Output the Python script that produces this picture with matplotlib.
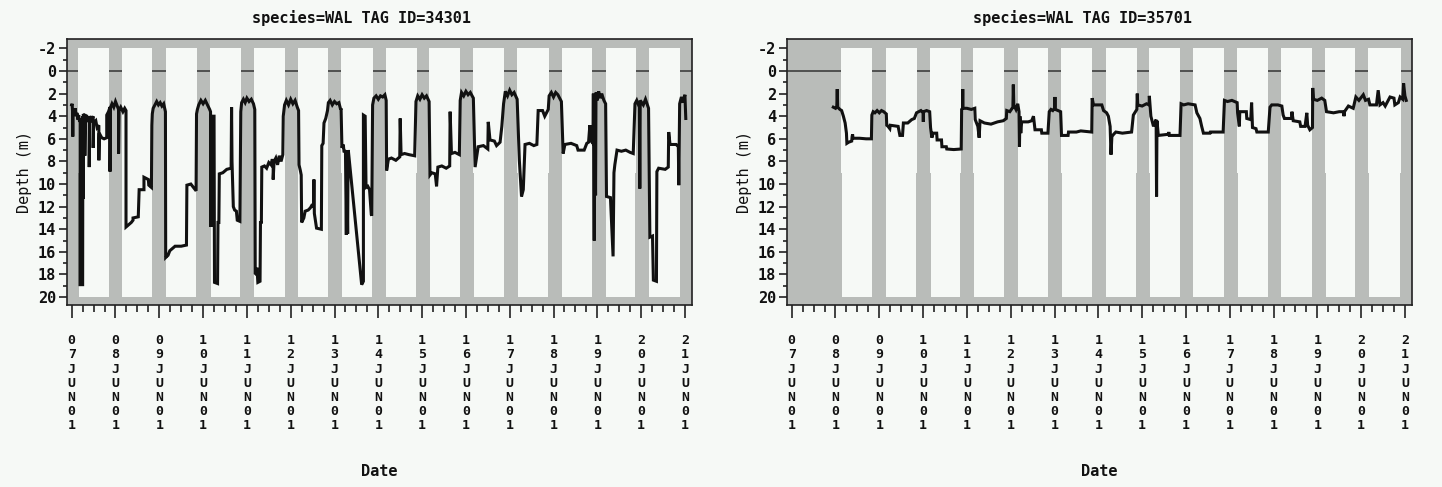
import matplotlib
matplotlib.use("Agg")
import matplotlib.pyplot as plt
from matplotlib.patches import Rectangle
from matplotlib.ticker import MultipleLocator

# ---------------- data (days since 07JUN01 00:00, depth in m) ----------------
titles = ["species=WAL TAG ID=34301", "species=WAL TAG ID=35701"]
date_labels = ["07JUN01", "08JUN01", "09JUN01", "10JUN01", "11JUN01",
               "12JUN01", "13JUN01", "14JUN01", "15JUN01", "16JUN01",
               "17JUN01", "18JUN01", "19JUN01", "20JUN01", "21JUN01"]
depth_ticks = [-2, 0, 2, 4, 6, 8, 10, 12, 14, 16, 18, 20]

# daylight periods (white), start / end in days
light_start_34301 = [0.15, 1.14, 2.15, 3.16, 4.16, 5.16, 6.15, 7.17, 8.16, 9.17, 10.17, 11.19, 12.19, 13.18]
light_end_34301 = [0.86, 1.84, 2.85, 3.86, 4.87, 5.86, 6.87, 7.88, 8.87, 9.87, 10.89, 11.89, 12.88, 13.89]
light_start_35701 = [1.13, 2.15, 3.16, 4.15, 5.16, 6.15, 7.17, 8.16, 9.16, 10.17, 11.17, 12.18, 13.16]
light_end_35701 = [1.84, 2.85, 3.86, 4.85, 5.86, 6.86, 7.88, 8.87, 9.88, 10.88, 11.88, 12.87, 13.90]

t_34301 = [0.00, 0.01, 0.02, 0.025, 0.03, 0.06, 0.08, 0.10, 0.12, 0.14, 0.16, 0.18, 0.19, 0.19, 0.25,
           0.255, 0.26, 0.265, 0.28, 0.30, 0.30, 0.31, 0.34, 0.37, 0.40, 0.40, 0.41, 0.45, 0.49, 0.49,
           0.50, 0.55, 0.58, 0.62, 0.62, 0.63, 0.685, 0.74, 0.80, 0.80, 0.84, 0.875, 0.875, 0.88, 0.92,
           0.96, 1.00, 1.04, 1.07, 1.07, 1.08, 1.12, 1.17, 1.21, 1.24, 1.24, 1.30, 1.36, 1.40, 1.40,
           1.52, 1.54, 1.65, 1.65, 1.75, 1.76, 1.82, 1.83, 1.84, 1.86, 1.90, 1.94, 1.98, 2.02, 2.06,
           2.10, 2.14, 2.146, 2.20, 2.24, 2.30, 2.36, 2.50, 2.62, 2.63, 2.72, 2.80, 2.84, 2.85, 2.87,
           2.90, 2.95, 3.00, 3.05, 3.10, 3.15, 3.17, 3.18, 3.19, 3.25, 3.26, 3.33, 3.34, 3.36, 3.37,
           3.45, 3.54, 3.64, 3.65, 3.66, 3.69, 3.72, 3.76, 3.78, 3.84, 3.86, 3.88, 3.92, 3.96, 4.00,
           4.05, 4.10, 4.15, 4.18, 4.19, 4.22, 4.23, 4.25, 4.30, 4.31, 4.33, 4.34, 4.40, 4.45, 4.50,
           4.55, 4.58, 4.60, 4.60, 4.62, 4.66, 4.70, 4.74, 4.78, 4.82, 4.83, 4.86, 4.90, 4.95, 5.00,
           5.05, 5.10, 5.15, 5.18, 5.19, 5.22, 5.24, 5.25, 5.30, 5.33, 5.40, 5.45, 5.48, 5.52, 5.53,
           5.54, 5.59, 5.70, 5.71, 5.74, 5.76, 5.80, 5.84, 5.86, 5.90, 5.95, 6.00, 6.05, 6.10, 6.14,
           6.15, 6.17, 6.20, 6.22, 6.25, 6.27, 6.28, 6.30, 6.31, 6.32, 6.62, 6.66, 6.66, 6.70, 6.72,
           6.76, 6.80, 6.84, 6.85, 6.87, 6.90, 6.95, 7.00, 7.05, 7.10, 7.15, 7.18, 7.19, 7.23, 7.30,
           7.40, 7.49, 7.50, 7.52, 7.60, 7.70, 7.83, 7.86, 7.90, 7.95, 8.00, 8.05, 8.10, 8.16, 8.18,
           8.22, 8.30, 8.33, 8.36, 8.45, 8.55, 8.63, 8.64, 8.67, 8.75, 8.85, 8.87, 8.90, 8.95, 9.00,
           9.05, 9.10, 9.17, 9.21, 9.24, 9.28, 9.40, 9.50, 9.51, 9.55, 9.65, 9.70, 9.78, 9.82, 9.86,
           9.90, 9.95, 10.00, 10.05, 10.10, 10.17, 10.22, 10.27, 10.31, 10.35, 10.45, 10.55, 10.62, 10.65, 10.75,
           10.80, 10.88, 10.90, 10.95, 11.00, 11.05, 11.10, 11.18, 11.22, 11.26, 11.40, 11.53, 11.56, 11.70, 11.76,
           11.80, 11.83, 11.86, 11.90, 11.91, 11.93, 11.94, 11.96, 11.97, 12.00, 12.03, 12.07, 12.10, 12.15, 12.19,
           12.21, 12.30, 12.36, 12.38, 12.40, 12.45, 12.55, 12.65, 12.75, 12.82, 12.86, 12.90, 12.96, 12.97, 12.98,
           13.05, 13.10, 13.17, 13.20, 13.26, 13.28, 13.35, 13.36, 13.40, 13.55, 13.62, 13.63, 13.66, 13.80, 13.85,
           13.86, 13.88, 13.92, 13.96, 14.00, 14.02]
d_34301 = [3.0, 2.9, 3.6, 5.8, 3.4, 3.8, 3.3, 4.0, 3.7, 4.3, 3.9, 4.5, 4.2, 18.9, 18.9,
           4.0, 11.3, 3.8, 4.0, 3.8, 7.5, 4.2, 3.9, 4.5, 4.2, 8.5, 4.0, 4.3, 4.0, 6.8,
           4.6, 4.4, 5.0, 4.8, 7.9, 5.5, 5.9, 6.0, 5.9, 3.9, 3.6, 3.2, 8.9, 3.3, 2.9,
           3.2, 2.7, 3.1, 3.4, 7.3, 3.5, 3.2, 3.6, 3.3, 3.5, 13.8, 13.6, 13.4, 13.2, 13.0,
           12.9, 10.5, 10.5, 9.4, 9.6, 10.1, 10.3, 4.8, 3.8, 3.3, 3.0, 2.7, 3.0, 2.8, 3.1,
           2.9, 3.6, 16.5, 16.3, 15.9, 15.7, 15.5, 15.5, 15.4, 10.1, 10.0, 10.4, 10.6, 3.8, 3.4,
           3.0, 2.6, 2.9, 2.6, 3.0, 3.4, 3.6, 13.8, 4.0, 4.0, 18.7, 18.8, 13.4, 13.4, 9.1,
           9.0, 8.7, 8.6, 3.2, 8.0, 12.0, 12.3, 12.4, 13.2, 13.3, 3.6, 2.8, 2.5, 2.8, 2.4,
           2.7, 2.5, 2.9, 3.4, 17.9, 18.0, 17.4, 18.7, 18.6, 13.3, 13.5, 8.5, 8.4, 8.6, 8.1,
           8.3, 7.8, 8.2, 9.6, 8.0, 7.7, 8.3, 7.5, 8.0, 7.4, 4.0, 3.0, 2.6, 3.0, 2.5,
           2.9, 2.6, 3.2, 3.5, 8.3, 8.8, 9.2, 13.4, 13.0, 12.4, 12.3, 12.1, 11.9, 12.0, 9.6,
           12.6, 13.9, 14.0, 6.6, 6.4, 4.6, 4.2, 3.5, 2.8, 2.6, 3.0, 2.7, 2.9, 2.8, 3.4,
           3.3, 6.8, 6.5, 7.2, 7.0, 14.5, 8.0, 14.4, 7.0, 7.2, 18.9, 18.6, 3.9, 4.0, 10.3,
           10.2, 10.5, 12.7, 12.8, 3.0, 2.4, 2.2, 2.5, 2.2, 2.3, 2.1, 2.6, 8.8, 7.8, 7.7,
           7.9, 7.6, 4.2, 7.4, 7.3, 7.4, 7.5, 2.7, 2.2, 2.5, 2.1, 2.4, 2.2, 2.7, 9.2,
           9.0, 9.1, 10.2, 8.5, 8.4, 8.6, 8.4, 3.6, 7.3, 7.2, 7.4, 2.6, 1.9, 2.2, 1.8,
           2.1, 1.9, 2.4, 8.5, 7.7, 6.7, 6.6, 6.9, 4.5, 6.1, 6.2, 6.6, 6.3, 4.9, 2.9,
           1.8, 2.2, 1.7, 2.1, 1.9, 2.5, 7.9, 11.1, 10.5, 6.5, 6.4, 6.6, 6.5, 3.5, 3.5,
           4.0, 3.4, 2.2, 1.9, 2.3, 1.9, 2.1, 2.7, 7.3, 6.5, 6.4, 6.6, 7.0, 7.0, 6.4,
           6.3, 4.8, 6.2, 6.4, 2.0, 15.0, 3.0, 11.0, 1.9, 2.6, 1.8, 2.4, 2.0, 2.6, 2.9,
           11.1, 11.2, 16.4, 9.0, 8.3, 7.0, 7.1, 7.0, 7.2, 7.3, 2.9, 2.6, 3.2, 10.4, 2.6,
           3.0, 2.5, 3.3, 14.7, 14.6, 18.5, 18.6, 8.9, 8.6, 8.7, 8.5, 5.4, 6.5, 6.5, 6.7,
           10.1, 2.9, 2.3, 2.8, 2.1, 4.2]

t_35701 = [0.95, 1.00, 1.03, 1.04, 1.05, 1.10, 1.14, 1.18, 1.22, 1.25, 1.26, 1.30, 1.37, 1.38, 1.39,
           1.40, 1.55, 1.70, 1.82, 1.83, 1.86, 1.90, 1.95, 2.00, 2.05, 2.10, 2.16, 2.17, 2.20, 2.24,
           2.25, 2.43, 2.47, 2.53, 2.55, 2.65, 2.74, 2.80, 2.85, 2.90, 2.95, 3.00, 3.005, 3.01, 3.08,
           3.15, 3.17, 3.20, 3.23, 3.31, 3.32, 3.42, 3.43, 3.53, 3.54, 3.70, 3.87, 3.88, 3.90, 3.905,
           3.91, 4.00, 4.10, 4.18, 4.19, 4.25, 4.28, 4.30, 4.40, 4.55, 4.70, 4.83, 4.90, 4.91, 4.98,
           5.05, 5.06, 5.07, 5.12, 5.16, 5.19, 5.20, 5.21, 5.23, 5.25, 5.40, 5.48, 5.52, 5.555, 5.70,
           5.71, 5.85, 5.88, 5.92, 5.96, 6.00, 6.01, 6.02, 6.08, 6.14, 6.16, 6.31, 6.32, 6.50, 6.60,
           6.85, 6.86, 6.89, 7.08, 7.12, 7.19, 7.23, 7.27, 7.29, 7.31, 7.35, 7.40, 7.55, 7.76, 7.80,
           7.88, 7.89, 7.90, 8.00, 8.10, 8.16, 8.165, 8.18, 8.20, 8.26, 8.32, 8.33, 8.34, 8.37, 8.60,
           8.61, 8.62, 8.865, 8.89, 8.95, 9.05, 9.21, 9.25, 9.32, 9.36, 9.40, 9.55, 9.56, 9.85, 9.88,
           9.95, 10.05, 10.17, 10.18, 10.22, 10.23, 10.38, 10.39, 10.48, 10.50, 10.52, 10.60, 10.62, 10.88, 10.92,
           10.96, 11.10, 11.19, 11.22, 11.25, 11.41, 11.42, 11.45, 11.60, 11.62, 11.72, 11.76, 11.78, 11.83, 11.89,
           11.895, 11.91, 12.00, 12.10, 12.17, 12.21, 12.37, 12.50, 12.60, 12.61, 12.62, 12.71, 12.82, 12.88, 12.95,
           13.05, 13.10, 13.17, 13.20, 13.35, 13.39, 13.43, 13.50, 13.55, 13.66, 13.75, 13.77, 13.85, 13.89, 13.95,
           13.97, 14.00, 14.03]
d_35701 = [3.2, 3.3, 3.1, 1.6, 3.2, 3.4, 3.5, 4.0, 4.6, 5.5, 6.4, 6.3, 6.2, 5.8, 5.6,
           5.95, 5.95, 6.0, 6.0, 3.9, 3.6, 3.7, 3.5, 3.7, 3.5, 3.6, 3.8, 4.8, 4.9, 5.1,
           4.8, 4.9, 5.7, 5.7, 4.6, 4.6, 4.3, 4.2, 3.7, 3.6, 3.5, 3.7, 4.5, 3.6, 3.5,
           3.6, 5.0, 5.9, 5.5, 5.5, 6.1, 6.1, 6.7, 6.7, 6.9, 6.95, 6.9, 3.4, 3.3, 1.6,
           3.3, 3.3, 3.4, 3.3, 4.3, 4.9, 5.9, 4.4, 4.6, 4.7, 4.5, 4.4, 4.2, 3.5, 3.6,
           3.2, 1.2, 3.0, 3.4, 2.9, 3.6, 6.7, 4.0, 5.5, 4.5, 4.5, 4.4, 4.0, 5.2, 5.2,
           5.5, 5.5, 3.6, 3.4, 3.5, 3.3, 2.3, 3.4, 3.5, 3.6, 5.7, 5.7, 5.4, 5.4, 5.3,
           5.4, 2.4, 3.0, 3.0, 3.5, 3.7, 4.0, 4.9, 7.4, 5.8, 5.6, 5.4, 5.5, 5.4, 3.9,
           3.4, 2.0, 3.0, 3.1, 2.9, 3.0, 2.2, 3.0, 4.0, 4.9, 4.3, 11.1, 4.4, 5.7, 5.6,
           5.4, 5.7, 5.7, 2.9, 3.0, 2.9, 3.0, 3.7, 4.2, 4.9, 5.5, 5.5, 5.4, 5.4, 2.6,
           2.7, 2.6, 2.8, 3.7, 4.9, 3.6, 3.6, 4.2, 4.3, 2.8, 5.0, 5.1, 5.4, 5.4, 3.2,
           3.0, 3.0, 3.1, 3.9, 4.2, 4.2, 3.6, 4.4, 4.5, 4.9, 4.9, 3.7, 4.8, 5.2, 5.0,
           1.5, 2.5, 2.6, 2.4, 2.6, 3.6, 3.7, 3.6, 3.6, 4.0, 3.6, 3.1, 3.3, 2.3, 2.6,
           2.1, 2.6, 2.5, 3.0, 3.0, 1.7, 3.0, 2.8, 3.1, 2.3, 2.4, 3.0, 2.8, 2.3, 2.5,
           1.1, 2.2, 2.6]

# ---------------- styling ----------------
BG = "#f6f9f6"
GRAY = "#b9bcb9"
INK = "#111111"
MONO = "DejaVu Sans Mono"

W, H = 1442, 487
fig = plt.figure(figsize=(W / 100, H / 100), dpi=100, facecolor=BG)

ax_left_px = [66.7, 786.7]
ax_w_px, ax_h_px = 625, 266
ax_bottom_px = 305
title_x_px = [361.5, 1082.5]

series = [(t_34301, d_34301, light_start_34301, light_end_34301),
          (t_35701, d_35701, light_start_35701, light_end_35701)]

for i, (t, d, ls, le) in enumerate(series):
    ax = fig.add_axes([ax_left_px[i] / W, (H - ax_bottom_px) / H, ax_w_px / W, ax_h_px / H])
    ax.set_facecolor(GRAY)
    ax.set_xlim(-0.114, 14.155)
    ax.set_ylim(20.7, -2.83)

    ax.axhline(0, color="#484848", lw=1.3, zorder=1)
    for s, e in zip(ls, le):
        ax.add_patch(Rectangle((s, -2), e - s, 11, facecolor=BG, edgecolor="none", zorder=2))
        ax.add_patch(Rectangle((s + 0.01, 9), e - s - 0.02, 11, facecolor=BG, edgecolor="none", zorder=2))

    ax.plot(t, d, color=INK, lw=2.2, zorder=3, solid_joinstyle="miter")

    for sp in ax.spines.values():
        sp.set_color("#222222")
        sp.set_linewidth(1.2)
        sp.set_zorder(4)

    ax.set_xticks(range(len(date_labels)))
    ax.set_xticklabels(["\n".join(lbl) for lbl in date_labels],
                       fontfamily=MONO, fontweight="bold", fontsize=9.5, linespacing=1.12)
    ax.xaxis.set_minor_locator(MultipleLocator(0.25))
    ax.set_yticks(depth_ticks)
    ax.set_yticklabels([str(v) for v in depth_ticks], fontfamily=MONO, fontweight="bold", fontsize=11)
    ax.yaxis.set_minor_locator(MultipleLocator(1))

    ax.tick_params(axis="x", which="major", direction="out", length=9, width=1.2, pad=12, colors="#222222")
    ax.tick_params(axis="x", which="minor", direction="out", length=5, width=1.2, colors="#222222")
    ax.tick_params(axis="y", which="major", direction="out", length=5.5, width=1.2, pad=2, colors="#222222")
    ax.tick_params(axis="y", which="minor", direction="out", length=3, width=1.2, colors="#222222")
    for lab in ax.get_xticklabels():
        lab.set_color("#111111")
    for lab in ax.get_yticklabels():
        lab.set_color("#111111")

    fig.text(title_x_px[i] / W, 1 - 18 / H, titles[i], ha="center", va="center",
             fontfamily=MONO, fontweight="bold", fontsize=11, color="#111111")
    fig.text((ax_left_px[i] + ax_w_px / 2) / W, 1 - 472 / H, "Date", ha="center", va="center",
             fontfamily=MONO, fontweight="bold", fontsize=11, color="#111111")
    fig.text((ax_left_px[i] - 41.7) / W, 1 - 172 / H, "Depth (m)", ha="center", va="center",
             rotation=90, fontfamily=MONO, fontsize=11, color="#111111")

fig.savefig("out.png", dpi=100, facecolor=BG)
